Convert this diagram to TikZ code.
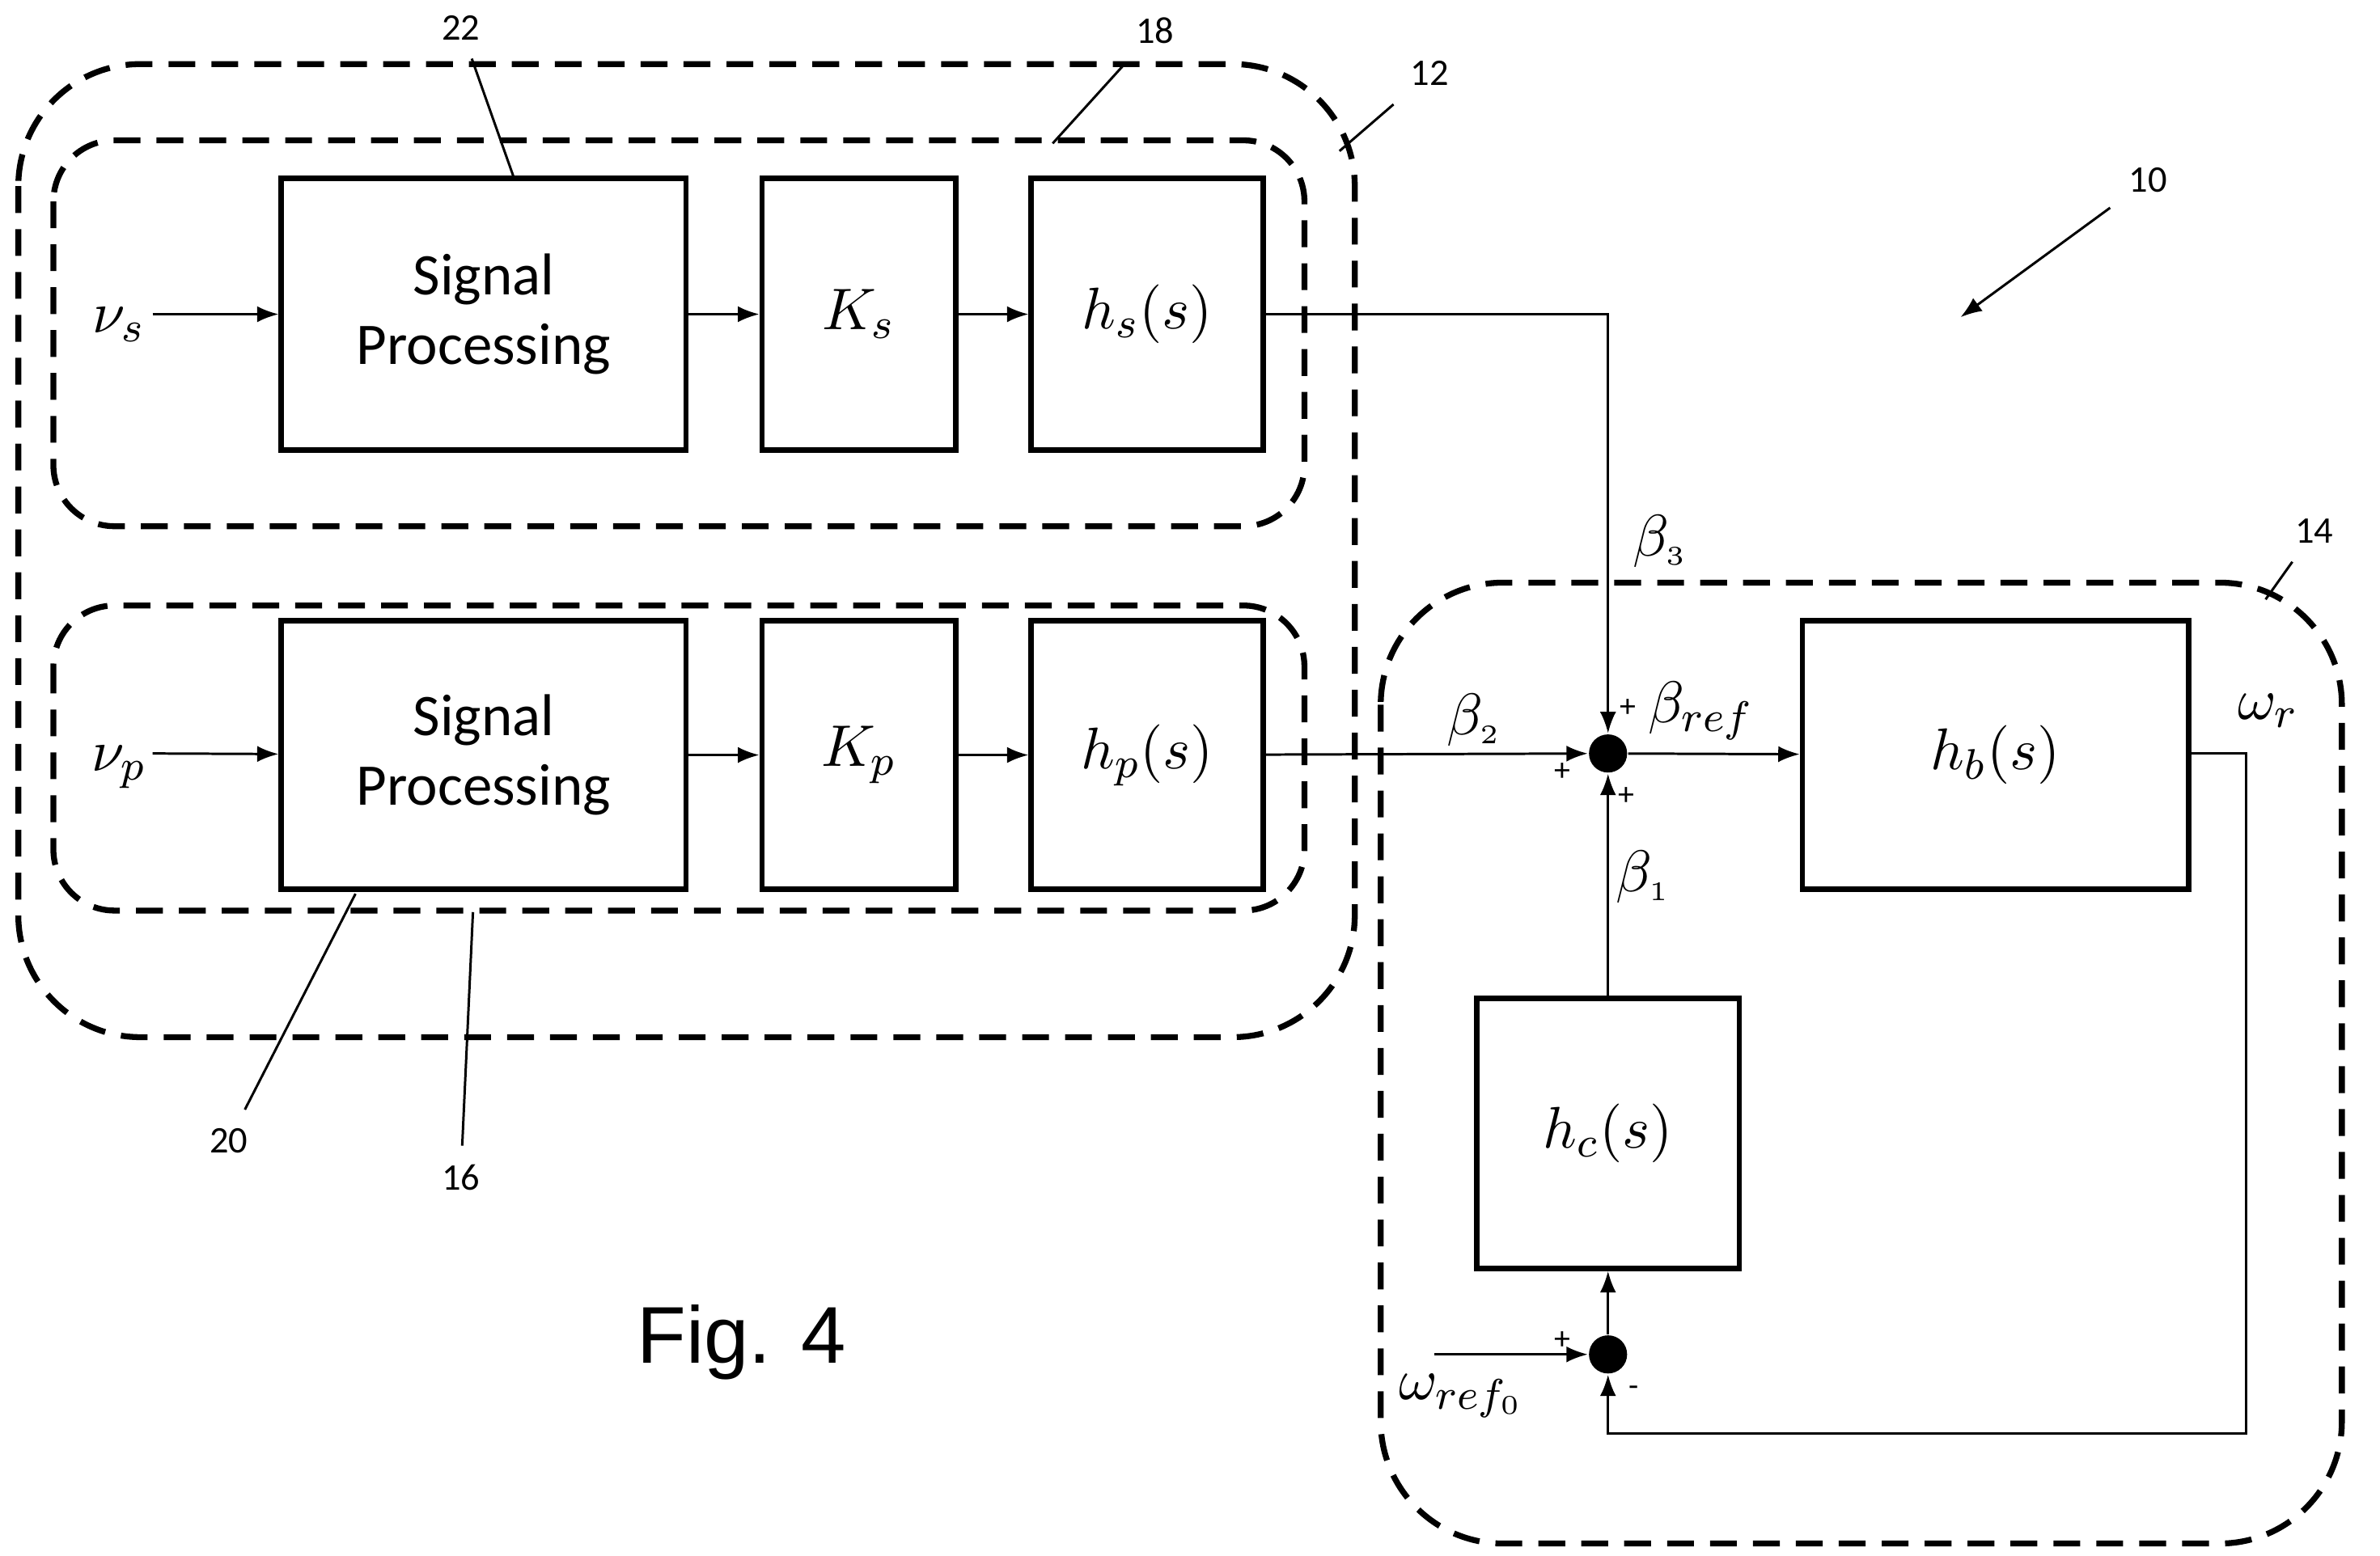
\documentclass[tikz,border=0pt]{standalone}
\usepackage{fontspec}
\setmainfont{Carlito}
\newfontfamily\figfont{Liberation Sans}
\usetikzlibrary{arrows.meta}
\begin{document}
\begin{tikzpicture}[x=0.01cm, y=-0.01cm]
    % Stili
    \tikzstyle{block}=[rectangle, draw, line width=1pt, inner sep=0pt, font=\fontsize{11}{13}\selectfont, align=center]
    \tikzstyle{group}=[draw, line width=1.1pt, dash pattern=on 5pt off 3pt]
    \tikzstyle{arrow}=[-{Latex[length=4pt, width=3pt]}, line width=0.45pt]
    \tikzstyle{wire}=[line width=0.45pt]
    \tikzstyle{sum}=[circle, fill=black, minimum size=0.25cm, inner sep=0pt]
    \tikzstyle{refnum}=[font=\fontsize{7}{8}\selectfont]
    \tikzstyle{sig}=[font=\fontsize{11}{13}\selectfont]
    \tikzstyle{sign}=[font=\fontsize{6}{7}\selectfont]
    \useasboundingbox (0,0) rectangle (1560,1020);
    % Gruppi tratteggiati
    \draw[group, rounded corners=0.8cm] (12,42) rectangle (888,680);
    \draw[group, rounded corners=0.4cm] (35,92) rectangle (855,345);
    \draw[group, rounded corners=0.4cm] (35,397) rectangle (855,597);
    \draw[group, rounded corners=0.8cm] (905,382) rectangle (1535,1012);
    % Blocchi
    \node[block, minimum width=2.65cm, minimum height=1.78cm] (sp1) at (317,206) {Signal\\Processing};
    \node[block, minimum width=1.27cm, minimum height=1.78cm] (ks) at (563,206) {$K_s$};
    \node[block, minimum width=1.52cm, minimum height=1.78cm] (hs) at (752,206) {$h_s(s)$};
    \node[block, minimum width=2.65cm, minimum height=1.76cm] (sp2) at (317,495) {Signal\\Processing};
    \node[block, minimum width=1.27cm, minimum height=1.76cm] (kp) at (563,495) {$K_p$};
    \node[block, minimum width=1.52cm, minimum height=1.76cm] (hp) at (752,495) {$h_p(s)$};
    \node[block, minimum width=2.53cm, minimum height=1.76cm] (hb) at (1308,495) {$h_b(s)$};
    \node[block, minimum width=1.72cm, minimum height=1.77cm] (hc) at (1054,743) {$h_c(s)$};
    \node[sum] (s1) at (1054,494) {};
    \node[sum] (s2) at (1054,888) {};
    % Ingressi
    \node[sig] (vs) at (78,213) {$\nu_s$};
    \node[sig] (vp) at (78,503) {$\nu_p$};
    \coordinate (vsin) at (100,206);
    \coordinate (vpin) at (100,494);
    \draw[arrow] (vsin) -- (sp1);
    \draw[arrow] (vpin) -- (sp2);
    \draw[arrow] (sp1) -- (ks);
    \draw[arrow] (ks) -- (hs);
    \draw[arrow] (sp2) -- (kp);
    \draw[arrow] (kp) -- (hp);
    % Connessioni
    \draw[arrow] (hs.east |- 0,206) -| (s1);
    \draw[arrow] (hp) -- (s1);
    \draw[arrow] (s1) -- (hb);
    \draw[arrow] (hc) -- (s1);
    \draw[arrow] (s2) -- (hc);
    \draw[arrow] (hb.east |- 0,494) -- (1472,494) |- (1054,940) -- (s2);
    \coordinate (wref) at (940,888);
    \draw[arrow] (wref) -- (s2);
    % Etichette
    \node[sig] (b3) at (1088,355) {$\beta_{\scriptscriptstyle 3}$};
    \node[sig] (b2) at (966,472) {$\beta_{\scriptscriptstyle 2}$};
    \node[sig] (bref) at (1115,466) {$\beta_{ref}$};
    \node[sig] (b1) at (1077,575) {$\beta_{\scriptscriptstyle 1}$};
    \node[sig] (wr) at (1487,466) {$\omega_r$};
    \node[sig] (wr0) at (958,915) {$\omega_{ref_{\scriptscriptstyle 0}}$};
    \node[sign] at (1067,464) {+};
    \node[sign] at (1024,506) {+};
    \node[sign] at (1066,522) {+};
    \node[sign] at (1024,879) {+};
    \node[sign] at (1071,912) {-};
    % Numeri di riferimento
    \node[refnum] (n22) at (302,18) {22};
    \node[refnum] (n18) at (757,20) {18};
    \node[refnum] (n12) at (937,48) {12};
    \node[refnum] (n10) at (1408,118) {10};
    \node[refnum] (n14) at (1517,348) {14};
    \node[refnum] (n20) at (150,748) {20};
    \node[refnum] (n16) at (302,772) {16};
    \draw[wire] (n22) -- (337,117);
    \draw[wire] (n18) -- (690,94);
    \draw[wire] (n12) -- (878,99);
    \draw[arrow] (n10) -- (1285,208);
    \draw[wire] (n14) -- (1485,393);
    \draw[wire] (n20) -- (233,586);
    \draw[wire] (n16) -- (310,598);
    \node[font=\figfont\fontsize{15}{18}\selectfont] (fig) at (486,880) {Fig. 4};
\end{tikzpicture}
\end{document}
